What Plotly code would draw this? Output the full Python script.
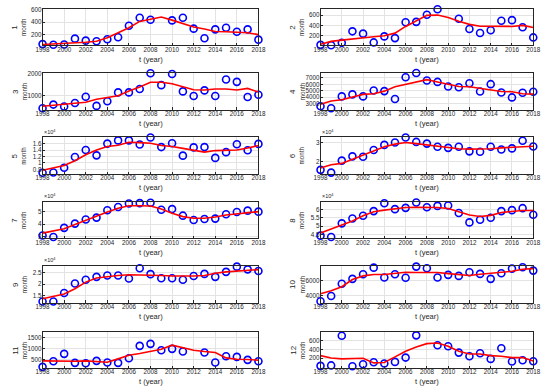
import plotly.graph_objects as go

W, H = 550, 387
years = list(range(1998, 2019))
xticks = list(range(1998, 2019, 2))

# observed monthly values for each of the 12 series
obs1 = [50, 40, 45, 137, 105, 95, 126, 158, 342, 468, 437, 615, 426, 468, 295, 142, 284, 310, 247, 284, 121]
obs2 = [23, 16, 62, 285, 240, 70, 187, 154, 462, 469, 607, 712, 731, 528, 331, 252, 305, 489, 502, 364, 167]
obs3 = [433, 597, 508, 672, 955, 537, 746, 1149, 1149, 1300, 2015, 1478, 1985, 1194, 985, 1240, 985, 1731, 1627, 940, 1045]
obs4 = [2590, 2280, 4130, 4440, 4130, 5050, 4950, 3720, 7100, 7770, 6590, 6380, 5670, 5560, 6180, 4900, 6030, 4740, 3970, 4690, 4850]
obs5 = [6900, 7000, 8500, 11900, 14100, 12400, 16100, 17100, 17100, 15800, 18000, 15000, 16200, 12300, 14900, 15000, 11600, 13400, 15900, 14000, 16000]
obs6 = [15400, 13900, 20400, 22700, 22500, 26100, 28900, 30200, 32900, 30500, 29600, 27900, 27300, 27900, 25400, 25200, 27900, 26400, 27000, 31100, 28000]
obs7 = [30800, 29500, 37000, 40500, 43800, 45400, 51400, 54100, 57000, 57300, 57600, 51900, 52400, 47000, 43500, 44300, 44600, 48100, 50000, 51100, 50300]
obs8 = [44200, 43400, 51700, 54700, 56400, 59200, 64000, 60400, 61200, 64500, 61600, 62400, 62600, 58000, 52300, 53900, 55100, 59200, 59800, 61000, 57000]
obs9 = [12400, 12400, 16100, 20300, 21900, 23200, 23800, 23800, 22500, 27000, 24400, 22600, 22600, 21900, 23600, 24500, 23200, 25400, 27700, 26500, 25800]
obs10 = [3200, 3910, 5560, 6220, 6840, 7730, 6400, 6840, 6360, 7870, 7640, 6400, 6760, 6620, 7110, 6890, 6220, 6980, 7600, 7780, 7330]
obs11 = [167, 424, 758, 348, 333, 439, 364, 348, 561, 1121, 1212, 924, 985, 864, 1773, 818, 364, 652, 621, 485, 424]
obs12 = [30, 40, 703, 20, 67, 111, 82, 119, 215, 711, 785, 489, 467, 326, 244, 311, 185, 422, 126, 156, 134]

# fitted (smoothed) curves
fit1 = [45, 52, 60, 70, 80, 95, 150, 230, 310, 410, 450, 480, 430, 380, 320, 290, 250, 245, 240, 230, 200]
fit2 = [36, 90, 115, 140, 160, 180, 200, 250, 380, 490, 595, 600, 555, 480, 420, 385, 385, 385, 380, 400, 360]
fit3 = [522, 575, 627, 665, 700, 836, 910, 1000, 1210, 1390, 1610, 1610, 1540, 1390, 1270, 1255, 1300, 1300, 1255, 1330, 1165]
fit4 = [2900, 3410, 3620, 4030, 4440, 4540, 4950, 5620, 5970, 6280, 6740, 6380, 5970, 5670, 5620, 5410, 5210, 4900, 4850, 4540, 4490]
fit5 = [7700, 8400, 9200, 10700, 12600, 14100, 15200, 15600, 16500, 16400, 16200, 15500, 15200, 14600, 13900, 13400, 13900, 13900, 14100, 14700, 15500]
fit6 = [16400, 18200, 18900, 21100, 23600, 25700, 27900, 29300, 30200, 29600, 28900, 28200, 27500, 26800, 26600, 26600, 26800, 27300, 27700, 28000, 28200]
fit7 = [32700, 34300, 36200, 39700, 43200, 46500, 50000, 53000, 55100, 55100, 54900, 52400, 48900, 46200, 44900, 44900, 45900, 47600, 48600, 49500, 50300]
fit8 = [45800, 48200, 50600, 53100, 56400, 58800, 59800, 60800, 61400, 61600, 61600, 61400, 60800, 58800, 56800, 55900, 56600, 58400, 59200, 59600, 59600]
fit9 = [13600, 14600, 15700, 18000, 20900, 22700, 23300, 23800, 24100, 24100, 24100, 23800, 23600, 23500, 23600, 23800, 24800, 25400, 25800, 26200, 26400]
fit10 = [4220, 4620, 5160, 6130, 6620, 6800, 6800, 6980, 7110, 7070, 7110, 7070, 6930, 6760, 6670, 6850, 6980, 7070, 7240, 7510, 7600]
fit11 = [439, 425, 409, 425, 439, 410, 379, 530, 697, 773, 879, 970, 1152, 1030, 924, 864, 818, 576, 515, 500, 470]
fit12 = [259, 207, 185, 195, 200, 96, 104, 230, 356, 452, 526, 541, 467, 356, 296, 296, 259, 244, 215, 215, 141]

obs_all = [obs1, obs2, obs3, obs4, obs5, obs6, obs7, obs8, obs9, obs10, obs11, obs12]
fit_all = [fit1, fit2, fit3, fit4, fit5, fit6, fit7, fit8, fit9, fit10, fit11, fit12]

# y ranges, tick values, scale factors (x10^4 exponent)
yranges = [[32, 612], [15, 725], [370, 2030], [2080, 7770], [6550, 18080], [13200, 33000],
           [28500, 58500], [42600, 65000], [11900, 28000], [3020, 7960], [120, 1740], [-15, 780]]
yticks = [[200, 400, 600], [200, 400, 600], [1000, 2000], [3000, 4000, 5000, 6000, 7000],
          [8000, 10000, 12000, 14000, 16000], [20000, 30000], [30000, 40000, 50000],
          [45000, 50000, 55000, 60000], [15000, 20000, 25000], [4000, 6000], [500, 1000, 1500], [200, 400, 600]]
yscale = [1, 1, 1, 1, 1e4, 1e4, 1e4, 1e4, 1e4, 1, 1, 1]
ylabels = [str(i) for i in range(1, 13)]

col_px = [(36.5, 258), (321.7, 540)]
row_tops = [5.7, 70.7, 135.7, 200.7, 265.7, 332.7]
row_h = [37, 37, 37, 37, 37, 36]

fig = go.Figure()
layout = dict(width=W, height=H, margin=dict(l=0, r=0, t=0, b=0),
              paper_bgcolor='white', plot_bgcolor='white', showlegend=False,
              font=dict(family='Liberation Sans, Arial', size=7, color='#262626'))
annotations = []
TICKF = dict(size=6.3, color='#262626')

def fmt(v, s):
    x = v / s
    if abs(x - round(x)) < 1e-9:
        return str(int(round(x)))
    return ('%g' % x)

for k in range(12):
    r, c = divmod(k, 2)
    x0, x1 = col_px[c]
    top = row_tops[r]
    bot = top + row_h[r]
    xa = 'x' if k == 0 else 'x%d' % (k + 1)
    ya = 'y' if k == 0 else 'y%d' % (k + 1)
    xkey = 'xaxis' if k == 0 else 'xaxis%d' % (k + 1)
    ykey = 'yaxis' if k == 0 else 'yaxis%d' % (k + 1)
    layout[xkey] = dict(domain=[x0 / W, x1 / W], anchor=ya, range=[1998, 2018],
                        tickvals=xticks, ticks='inside', ticklen=2.5, tickcolor='#262626',
                        showline=True, mirror=True, linecolor='#262626', linewidth=0.6,
                        showgrid=True, gridcolor='#e3e3e3', gridwidth=0.6, zeroline=False,
                        ticklabelstandoff=-2, tickfont=TICKF)
    layout[ykey] = dict(domain=[1 - bot / H, 1 - top / H], anchor=xa, range=yranges[k],
                        tickvals=yticks[k], ticktext=[fmt(v, yscale[k]) for v in yticks[k]],
                        ticks='inside', ticklen=2.5, tickcolor='#262626',
                        showline=True, mirror=True, linecolor='#262626', linewidth=0.6,
                        showgrid=True, gridcolor='#e3e3e3', gridwidth=0.6, zeroline=False,
                        ticklabelstandoff=-1, tickfont=TICKF)
    fig.add_trace(go.Scatter(x=years, y=obs_all[k], mode='markers', xaxis=xa, yaxis=ya,
                             cliponaxis=False,
                             marker=dict(symbol='circle-open', size=7, color='#0000ff',
                                         line=dict(width=1.6, color='#0000ff'))))
    fig.add_trace(go.Scatter(x=years, y=fit_all[k], mode='lines', xaxis=xa, yaxis=ya,
                             line=dict(color='#ff0000', width=1.6)))
    ymid = 1 - (top + bot) / 2 / H
    # x title
    annotations.append(dict(text='t (year)', xref='paper', yref='paper',
                            x=(x0 + x1) / 2 / W, y=1 - (bot + 14) / H, showarrow=False,
                            font=dict(size=7.5, color='#262626'), xanchor='center', yanchor='middle'))
    # y title (two lines: series number and unit)
    annotations.append(dict(text=ylabels[k], xref='paper', yref='paper',
                            x=(x0 - 28.5) / W, y=ymid, showarrow=False, textangle=-90,
                            font=dict(size=8, color='#262626'), xanchor='center', yanchor='middle'))
    annotations.append(dict(text='month', xref='paper', yref='paper',
                            x=(x0 - 19) / W, y=ymid, showarrow=False, textangle=-90,
                            font=dict(size=6.3, color='#262626'), xanchor='center', yanchor='middle'))
    if yscale[k] != 1:
        annotations.append(dict(text='×10<sup>4</sup>', xref='paper', yref='paper',
                                x=(x0 - 1) / W, y=1 - (top - 0.5) / H, showarrow=False,
                                font=dict(size=5.5, color='#262626'), xanchor='left', yanchor='bottom'))

layout['annotations'] = annotations
fig.update_layout(**layout)
fig.write_html('out.html', config={'displayModeBar': False},
               post_script="document.body.style.margin='0';document.body.style.overflow='hidden';")
